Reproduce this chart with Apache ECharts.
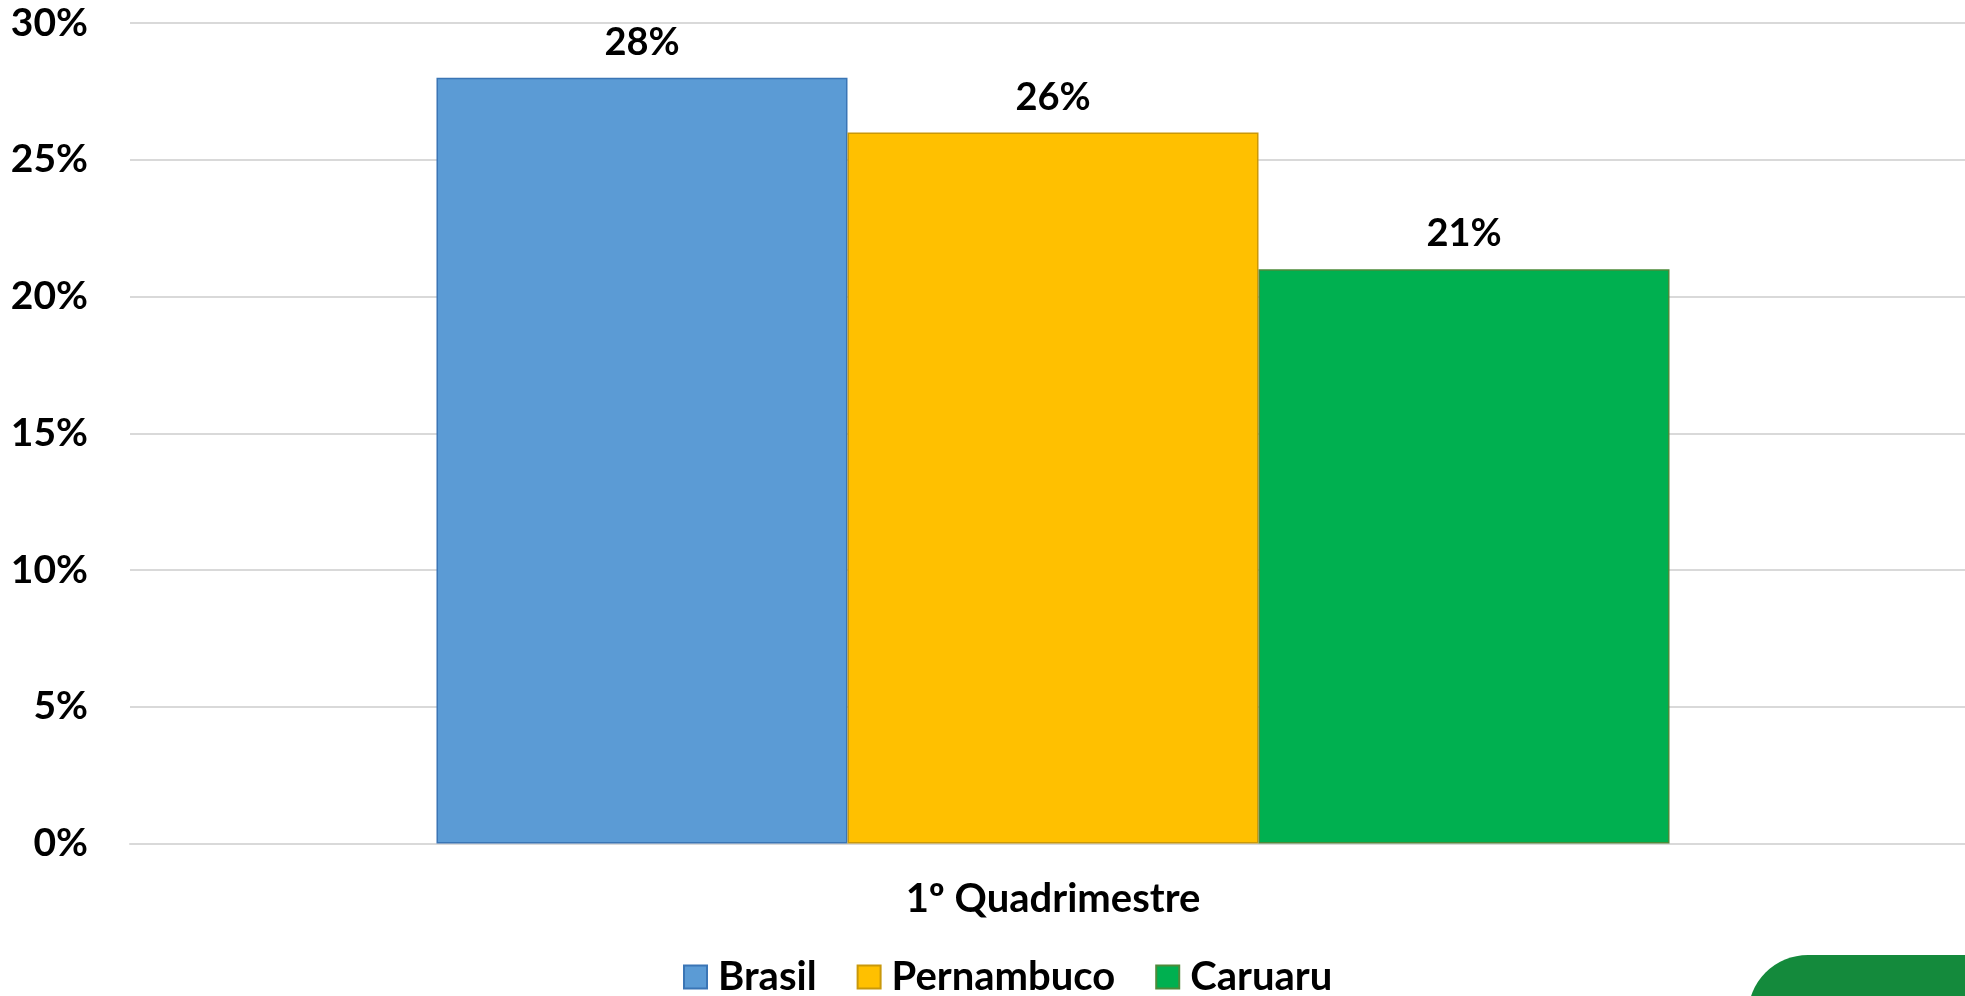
<!DOCTYPE html>
<html>
<head>
<meta charset="utf-8">
<script src="https://cdn.jsdelivr.net/npm/echarts@6/dist/echarts.min.js"></script>
<style>
html,body{margin:0;padding:0;background:#fff;}
#chart{width:1965px;height:996px;}
</style>
</head>
<body>
<div id="chart"></div>
<script>
const categories = ['1º Quadrimestre'];
const seriesNames = ['Brasil', 'Pernambuco', 'Caruaru'];
const brasil = [28];
const pernambuco = [26];
const caruaru = [21];
const yTicks = { min: 0, max: 30, interval: 5 };

const FONT = 'Lato, "Open Sans", sans-serif';
const colors = ['#5B9BD5', '#FFC000', '#00B050'];
const borders = ['#3A75B5', '#C9980A', '#4E8A3A'];
const values = [brasil, pernambuco, caruaru];

const chart = echarts.init(document.getElementById('chart'));
chart.setOption({
  animation: false,
  backgroundColor: '#ffffff',
  textStyle: { fontFamily: FONT },
  grid: [
    { left: 130, right: 0, top: 23, bottom: 152.5, containLabel: false },
    { left: 141, right: 0, top: 23, bottom: 152.5, containLabel: false }
  ],
  legend: {
    data: seriesNames,
    left: 678,
    top: 952,
    itemWidth: 23,
    itemHeight: 23,
    itemGap: 40,
    icon: 'rect',
    textStyle: { fontFamily: FONT, fontWeight: 'bold', fontSize: 40, color: '#000', padding: [0, 0, 0, 6] }
  },
  xAxis: [{
    gridIndex: 0,
    type: 'category',
    data: categories,
    axisLine: { lineStyle: { color: '#d9d9d9', width: 2 } },
    axisTick: { show: false },
    axisLabel: { show: false }
  }, {
    gridIndex: 1,
    type: 'category',
    data: categories,
    axisLine: { show: false },
    axisTick: { show: false },
    axisLabel: { fontFamily: FONT, fontWeight: 'bold', fontSize: 40, color: '#000', margin: 36 }
  }],
  yAxis: [{
    gridIndex: 0,
    type: 'value',
    min: yTicks.min, max: yTicks.max, interval: yTicks.interval,
    axisLine: { show: false },
    axisTick: { show: false },
    splitLine: { lineStyle: { color: '#d9d9d9', width: 2 } },
    axisLabel: { formatter: '{value}%', fontFamily: FONT, fontWeight: 'bold', fontSize: 39, color: '#000', margin: 42 }
  }, {
    gridIndex: 1,
    type: 'value',
    min: yTicks.min, max: yTicks.max, interval: yTicks.interval,
    show: false,
    splitLine: { show: false }
  }],
  series: seriesNames.map((name, i) => ({
    name: name,
    type: 'bar',
    xAxisIndex: 1,
    yAxisIndex: 1,
    data: values[i],
    barGap: '0%',
    barCategoryGap: '32.4%',
    itemStyle: { color: colors[i], borderColor: borders[i], borderWidth: 1.5 },
    label: {
      show: true, position: 'top', distance: 16,
      formatter: '{c}%',
      fontFamily: FONT, fontWeight: 'bold', fontSize: 38, color: '#000'
    }
  })),
  graphic: [{
    type: 'rect',
    shape: { x: 1748, y: 955, width: 240, height: 80, r: [60, 0, 0, 0] },
    style: { fill: '#148A3C' },
    silent: true
  }]
});
</script>
</body>
</html>
